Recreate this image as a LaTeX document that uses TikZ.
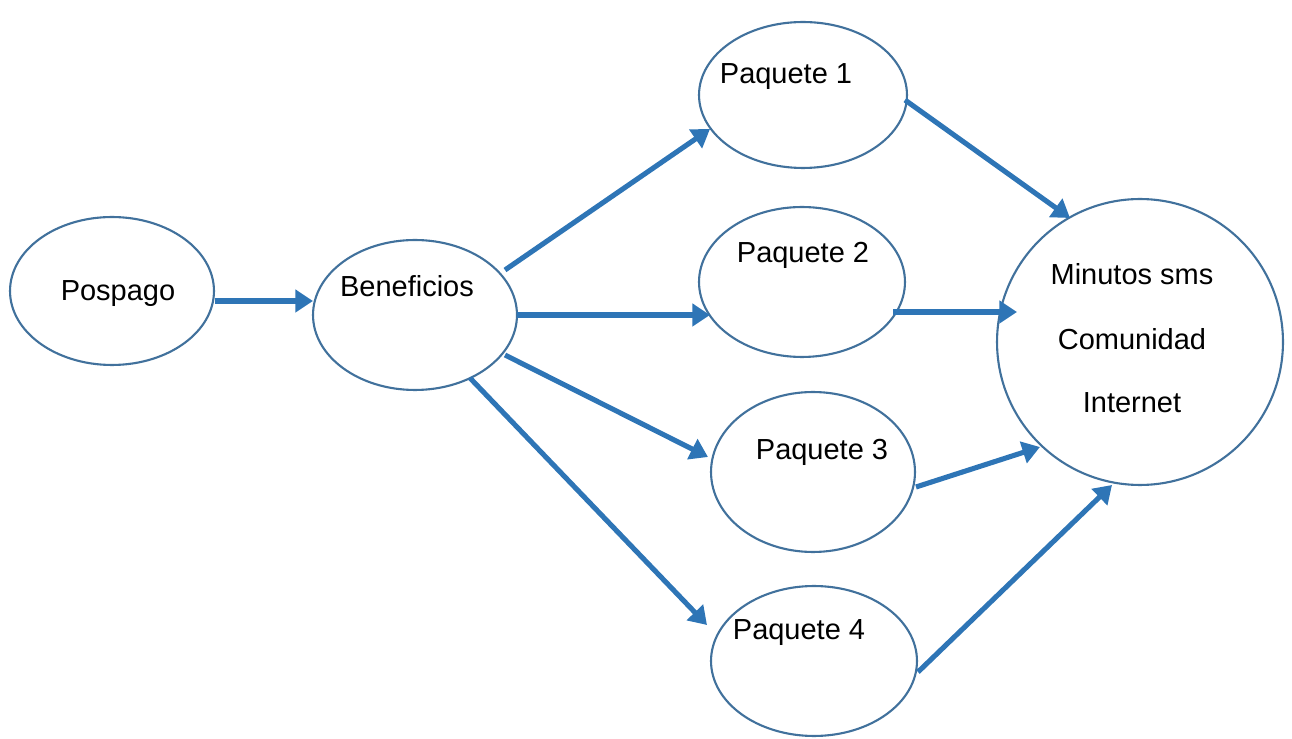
\documentclass[tikz,border=0pt]{standalone}
\usepackage{fontspec}
\setmainfont{Liberation Sans}
\usetikzlibrary{shapes.geometric,arrows.meta,calc}
\definecolor{rim}{HTML}{41719C}
\definecolor{flow}{HTML}{2E75B6}
\tikzset{
  bubble/.style={draw=rim, line width=1.2pt, ellipse, inner sep=0pt, fill=white},
  caption/.style={font=\fontsize{16.5}{19}\selectfont, inner sep=0pt, text=black},
  link/.style={draw=flow, line width=2.9pt, -{Triangle[length=10pt,width=12.5pt]}}
}
\begin{document}
\begin{tikzpicture}[x=0.02cm, y=-0.02cm]
  \useasboundingbox (0,0) rectangle (1292,739);

  % ellipses
  \node[bubble, minimum width=4.08cm, minimum height=2.96cm] (pos) at (112,291) {};
  \node[bubble, minimum width=4.08cm, minimum height=3.0cm] (ben) at (415,315) {};
  \node[bubble, minimum width=4.16cm, minimum height=2.92cm] (p1) at (803,95) {};
  \node[bubble, minimum width=4.12cm, minimum height=3.0cm] (p2) at (802,282) {};
  \node[bubble, minimum width=4.08cm, minimum height=3.2cm] (p3) at (813,472) {};
  \node[bubble, minimum width=4.12cm, minimum height=3.0cm] (p4) at (814,661) {};
  \node[bubble, minimum width=5.72cm, minimum height=5.72cm] (big) at (1140,342) {};

  % labels
  \node[caption] (pos-t) at (118,294) {Pospago};
  \node[caption] (ben-t) at (407,286) {Beneficios};
  \node[caption] (p1-t) at (786,77) {Paquete 1};
  \node[caption] (p2-t) at (803,255) {Paquete 2};
  \node[caption] (p3-t) at (822,452) {Paquete 3};
  \node[caption] (p4-t) at (799,633) {Paquete 4};
  \node[caption] (big-a) at (1132,274) {Minutos sms};
  \node[caption] (big-b) at (1132,339) {Comunidad};
  \node[caption] (big-c) at (1132,403) {Internet};

  % connectors
  \draw[link] ($(pos.center)+(103,10)$) -- ($(ben.center)+(-102,-14)$);
  \draw[link] ($(ben.center)+(90,-45)$) -- ($(p1.center)+(-93,34)$);
  \draw[link] ($(ben.center)+(102,0)$) -- ($(p2.center)+(-92,33)$);
  \draw[link] ($(ben.center)+(90,40)$) -- ($(p3.center)+(-105,-15)$);
  \draw[link] ($(ben.center)+(55,63)$) -- ($(p4.center)+(-107,-36)$);
  \draw[link] ($(p1.center)+(102,5)$) -- ($(big.center)+(-70,-124)$);
  \draw[link] ($(p2.center)+(91,30)$) -- ($(big.center)+(-123,-30)$);
  \draw[link] ($(p3.center)+(103,15)$) -- ($(big.center)+(-100,105)$);
  \draw[link] ($(p4.center)+(104,11)$) -- ($(big.center)+(-28,143)$);
\end{tikzpicture}
\end{document}
